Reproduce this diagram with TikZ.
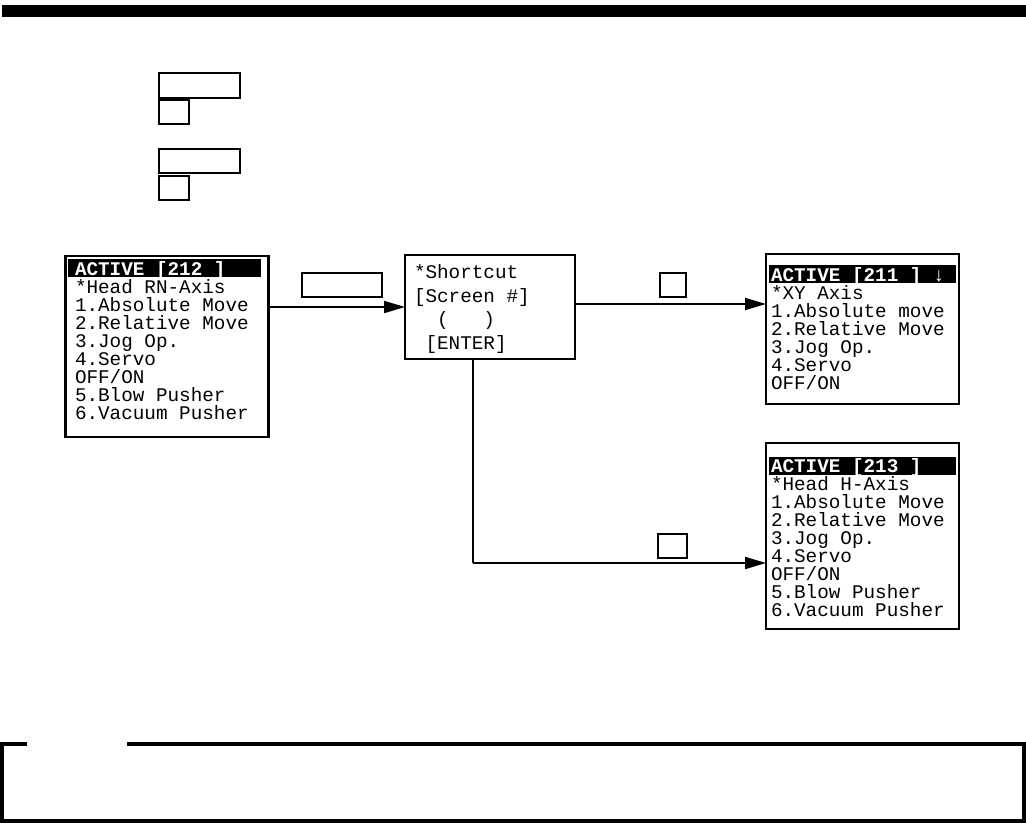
\documentclass[tikz,border=0pt]{standalone}
\usepackage{fontspec}
\newfontfamily\scrfont{Liberation Mono}
\usetikzlibrary{arrows.meta}
\tikzset{
  scrtxt/.style={inner sep=0pt, outer sep=0pt, anchor=base west, font=\scrfont\fontsize{19.3}{18}\selectfont},
  hdrtxt/.style={scrtxt, text=white, font=\scrfont\bfseries\fontsize{19.3}{18}\selectfont},
  screen/.style={draw, line width=2.6pt, inner sep=0pt, outer sep=0pt, anchor=north west},
  keybox/.style={draw, line width=1.2pt, inner sep=0pt, outer sep=0pt, anchor=north west},
  flow/.style={line width=2pt, -{Triangle[length=21pt,width=12pt]}},
  flowline/.style={line width=1.3pt}
}
\begin{document}
\begin{tikzpicture}[x=1pt,y=-1pt]
\useasboundingbox (0,0) rectangle (1026,824);
% top bar
\fill (2,5) rectangle (1026,17);
% top key boxes
\node[keybox, minimum width=81pt, minimum height=25pt] (k1) at (159,73) {};
\node[keybox, minimum width=30pt, minimum height=24pt] (k2) at (159,100) {};
\node[keybox, minimum width=81pt, minimum height=24pt] (k3) at (159,149) {};
\node[keybox, minimum width=30pt, minimum height=24pt] (k4) at (159,176) {};
% left screen
\node[screen, minimum width=203pt, minimum height=181pt] (s212) at (65.5,256) {};
\fill (68,259) rectangle (261,277);
\node[hdrtxt] (h212) at (75,275) {ACTIVE [212 ]};
\foreach \t [count=\i] in {{*Head RN-Axis},{1.Absolute Move},{2.Relative Move},{3.Jog Op.},{4.Servo},{OFF/ON},{5.Blow Pusher},{6.Vacuum Pusher}}
  \node[scrtxt] (l212-\i) at (75,275+18*\i) {\t};
% shortcut screen
\node[screen, minimum width=170pt, minimum height=104pt] (sc) at (405,255) {};
\node[scrtxt] (sc1) at (414,278) {*Shortcut};
\node[scrtxt] (sc2) at (414,302) {[Screen \#]};
\node[scrtxt] (sc3) at (414,325) {\phantom{xx}(\phantom{xxx})};
\node[scrtxt] (sc4) at (414,349) {\phantom{x}[ENTER]};
% right top screen
\node[screen, minimum width=193pt, minimum height=150pt] (s211) at (766,254) {};
\fill (769,265) rectangle (956,283);
\node[hdrtxt] (h211) at (771,281) {ACTIVE [211 ] ↓};
\foreach \t [count=\i] in {{*XY Axis},{1.Absolute move},{2.Relative Move},{3.Jog Op.},{4.Servo},{OFF/ON}}
  \node[scrtxt] (l211-\i) at (771,281+18*\i) {\t};
% right bottom screen
\node[screen, minimum width=193pt, minimum height=186pt] (s213) at (766,443) {};
\fill (769,457) rectangle (956,475);
\node[hdrtxt] (h213) at (771,472) {ACTIVE [213 ]};
\foreach \t [count=\i] in {{*Head H-Axis},{1.Absolute Move},{2.Relative Move},{3.Jog Op.},{4.Servo},{OFF/ON},{5.Blow Pusher},{6.Vacuum Pusher}}
  \node[scrtxt] (l213-\i) at (771,472+18*\i) {\t};
% connector key boxes
\node[keybox, minimum width=80pt, minimum height=24pt] (ka) at (302,273) {};
\node[keybox, minimum width=26pt, minimum height=24pt] (kb) at (660,273) {};
\node[keybox, minimum width=29pt, minimum height=24pt] (kc) at (658,534) {};
% connectors
\draw[flow] (s212.east |- 0,307) -- (sc.west |- 0,307);
\draw[flow] (sc.east |- 0,304) -- (s211.west |- 0,304);
\coordinate (bend) at (473,563);
\draw[flowline] (sc.south -| bend) -- (bend);
\draw[flow] (bend) -- (s213.west |- bend);
% bottom frame
\draw[line width=4pt] (27,744) -- (2,744) -- (2,821) -- (1024,821) -- (1024,744) -- (127,744);
\end{tikzpicture}
\end{document}
